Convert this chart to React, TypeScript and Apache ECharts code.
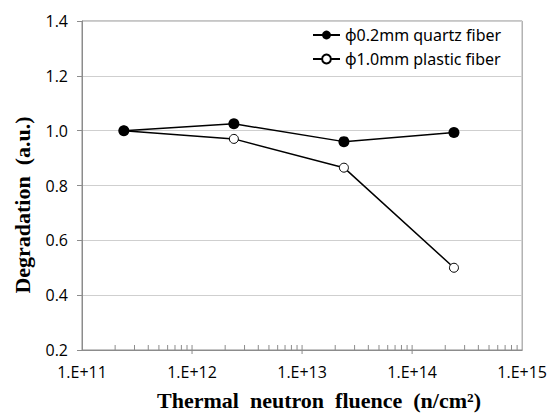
import React, { useEffect, useRef } from "react";
import * as echarts from "echarts";

const fluence = [2.4e11, 2.4e12, 2.4e13, 2.4e14];
const quartz = [1.0, 1.025, 0.96, 0.993];
const plastic = [1.0, 0.97, 0.865, 0.5];
const seriesNames = ["\u03d50.2mm quartz fiber", "\u03d51.0mm plastic fiber"];
const yMin = 0.2;
const yMax = 1.4;
const yStep = 0.2;
const xMin = 1e11;
const xMax = 1e15;
const xTitle = "Thermal  neutron  fluence  (n/cm\u00b2)";
const yTitle = "Degradation  (a.u.)";

const minorTicks: number[][] = [];
for (let e = 11; e < 15; e++) {
  for (let m = 2; m <= 9; m++) minorTicks.push([m * Math.pow(10, e), yMin, 0]);
}
for (let e = 12; e < 15; e++) minorTicks.push([Math.pow(10, e), yMin, 1]);

export default function App() {
  const ref = useRef<HTMLDivElement>(null);
  useEffect(() => {
    if (!ref.current) return;
    const chart = echarts.init(ref.current, null, { renderer: "svg" });
    const axisGrey = "#8c8c8c";
    chart.setOption({
      animation: false,
      backgroundColor: "#ffffff",
      grid: {
        left: 82,
        right: 27,
        top: 21,
        bottom: 64,
        show: true,
        borderColor: axisGrey,
        borderWidth: 1,
      },
      legend: {
        orient: "vertical",
        left: 307,
        top: 22,
        itemWidth: 27,
        itemHeight: 11,
        itemGap: 8,
        data: seriesNames,
        textStyle: { fontFamily: "'Noto Sans', 'Open Sans'", fontSize: 16, color: "#000" },
      },
      xAxis: {
        type: "log",
        logBase: 10,
        min: xMin,
        max: xMax,
        axisLine: { lineStyle: { color: axisGrey, width: 1 } },
        axisTick: { show: false },
        splitLine: { show: false },
        axisLabel: {
          margin: 14,
          fontFamily: "Open Sans",
          fontSize: 16,
          color: "#000",
          formatter: (v: number) => "1.E+" + Math.round(Math.log10(v)),
        },
      },
      yAxis: {
        type: "value",
        min: yMin,
        max: yMax,
        interval: yStep,
        axisLine: { show: true, lineStyle: { color: axisGrey, width: 1 } },
        axisTick: { show: true, length: 5, lineStyle: { color: axisGrey } },
        splitLine: { lineStyle: { color: "#cfcfcf", width: 1 } },
        axisLabel: {
          margin: 14,
          fontFamily: "Open Sans",
          fontSize: 16,
          color: "#000",
          formatter: (v: number) => v.toFixed(1),
        },
      },
      graphic: [
        {
          type: "text",
          x: 319,
          y: 400,
          style: {
            text: xTitle,
            font: "bold 22px 'Liberation Serif'",
            fill: "#000",
            align: "center",
            verticalAlign: "middle",
          },
        },
        {
          type: "text",
          x: 22,
          y: 205,
          rotation: Math.PI / 2,
          style: {
            text: yTitle,
            font: "bold 22px 'Liberation Serif'",
            fill: "#000",
            align: "center",
            verticalAlign: "middle",
          },
        },
      ],
      series: [
        {
          type: "custom",
          silent: true,
          clip: false,
          data: minorTicks,
          renderItem: (_p: any, api: any) => {
            const pt = api.coord([api.value(0), api.value(1)]);
            const major = api.value(2) === 1;
            return {
              type: "line",
              shape: {
                x1: pt[0],
                y1: pt[1] - 5,
                x2: pt[0],
                y2: pt[1] + (major ? 4 : 0),
              },
              style: { stroke: axisGrey, lineWidth: 1 },
            };
          },
          z: 1,
        },
        {
          name: seriesNames[0],
          type: "line",
          data: fluence.map((x, i) => [x, quartz[i]]),
          symbol: "circle",
          symbolSize: 11,
          itemStyle: { color: "#000" },
          lineStyle: { color: "#000", width: 1.5 },
          z: 3,
        },
        {
          name: seriesNames[1],
          type: "line",
          data: fluence.map((x, i) => [x, plastic[i]]),
          symbol: "circle",
          symbolSize: 9,
          itemStyle: { color: "#fff", borderColor: "#000", borderWidth: 1 },
          lineStyle: { color: "#000", width: 1.5 },
          z: 2,
        },
      ],
    });
    return () => chart.dispose();
  }, []);
  return (
    <div
      ref={ref}
      style={{ position: "fixed", left: 0, top: 0, width: 550, height: 414 }}
    />
  );
}
